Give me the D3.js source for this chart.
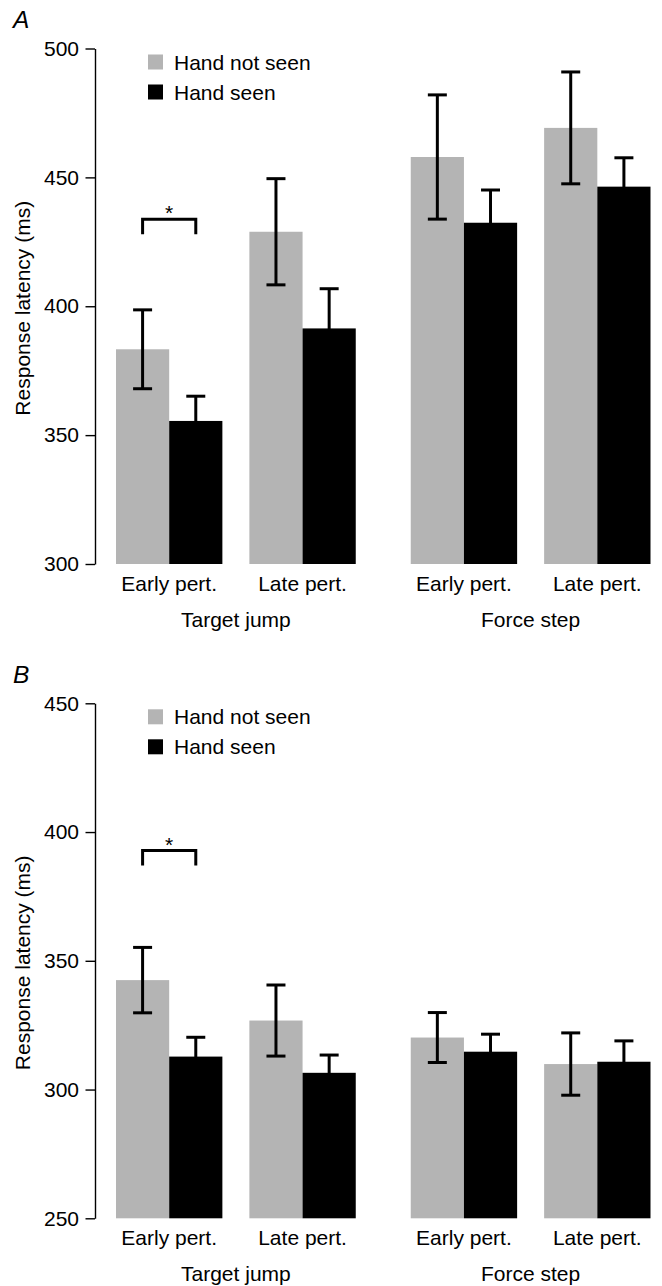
<!DOCTYPE html>
<html>
<head>
<meta charset="utf-8">
<script src="https://cdn.jsdelivr.net/npm/d3@7"></script>
<style>
  html, body { margin: 0; padding: 0; background: #fff; }
  svg { display: block; }
  text { font-family: "Liberation Sans", Arial, Helvetica, sans-serif; fill: #000; }
</style>
</head>
<body>
<svg id="chart" width="662" height="1286"></svg>
<script>
// Conditions: two perturbation types, each with an early and a late perturbation
const groups = ["Target jump", "Force step"];
const perturbations = ["Early pert.", "Late pert."];
const seriesNames = ["Hand not seen", "Hand seen"];
const seriesColors = ["#b4b4b4", "#000000"];

// Bar order: Target jump early, Target jump late, Force step early, Force step late
// Panel A
const meanA_notSeen = [383.3, 428.9, 457.9, 469.2];
const semA_notSeen  = [15.3, 20.6, 24.1, 21.7];
const meanA_seen    = [355.5, 391.4, 432.4, 446.4];
const semA_seen     = [9.6, 15.4, 12.7, 11.2];
const ticksA = [300, 350, 400, 450, 500];
const sigA = [{ group: "Target jump", pert: "Early pert.", level: 433.8, label: "*" }];

// Panel B
const meanB_notSeen = [342.5, 326.8, 320.2, 309.9];
const semB_notSeen  = [12.7, 13.8, 9.7, 12.1];
const meanB_seen    = [312.8, 306.5, 314.7, 310.8];
const semB_seen     = [7.5, 6.9, 6.8, 8.1];
const ticksB = [250, 300, 350, 400, 450];
const sigB = [{ group: "Target jump", pert: "Early pert.", level: 392.8, label: "*" }];

const panels = [
  { letter: "A", top: 48.5, bottom: 564, domain: [300, 500], ticks: ticksA,
    means: [meanA_notSeen, meanA_seen], sems: [semA_notSeen, semA_seen], sig: sigA },
  { letter: "B", top: 703.3, bottom: 1218.3, domain: [250, 450], ticks: ticksB,
    means: [meanB_notSeen, meanB_seen], sems: [semB_notSeen, semB_seen], sig: sigB }
];

const svg = d3.select("#chart");
const axisX = 95;
const fontSize = 21;

// Horizontal layout: groups -> perturbations -> series
const xGroup = d3.scaleBand().domain(groups).range([116, 650.5])
  .paddingInner(55 / ((534.5 + 55) / 2)).paddingOuter(0);
const xPert = d3.scaleBand().domain(perturbations).range([0, xGroup.bandwidth()])
  .paddingInner(27 / ((xGroup.bandwidth() + 27) / 2)).paddingOuter(0);
const xSeries = d3.scaleBand().domain(seriesNames).range([0, xPert.bandwidth()]).padding(0);

const slotX = (g, p) => xGroup(g) + xPert(p);

panels.forEach(panel => {
  const y = d3.scaleLinear().domain(panel.domain).range([panel.bottom, panel.top]);
  const g = svg.append("g");

  // Panel letter
  g.append("text")
    .attr("x", 13).attr("y", panel.top - 20.5)
    .attr("font-size", 24.5).attr("font-style", "italic")
    .text(panel.letter);

  // Records for each bar
  const records = [];
  groups.forEach((grp, gi) => {
    perturbations.forEach((pert, pi) => {
      const idx = gi * 2 + pi;
      seriesNames.forEach((s, si) => {
        records.push({ grp, pert, s, si,
          mean: panel.means[si][idx], sem: panel.sems[si][idx] });
      });
    });
  });

  // Bars
  g.selectAll("rect.bar").data(records).join("rect")
    .attr("class", "bar")
    .attr("x", d => slotX(d.grp, d.pert) + xSeries(d.s))
    .attr("width", xSeries.bandwidth())
    .attr("y", d => y(d.mean))
    .attr("height", d => y(panel.domain[0]) - y(d.mean))
    .attr("fill", d => seriesColors[d.si]);

  // Error bars (mean ± SEM)
  const capHalf = 9.5;
  const eb = g.selectAll("g.err").data(records).join("g")
    .attr("class", "err")
    .attr("stroke", "#000").attr("stroke-width", 3).attr("fill", "none");
  const cx = d => slotX(d.grp, d.pert) + xSeries(d.s) + xSeries.bandwidth() / 2;
  eb.append("line")
    .attr("x1", cx).attr("x2", cx)
    .attr("y1", d => y(d.mean - d.sem)).attr("y2", d => y(d.mean + d.sem));
  eb.append("line")
    .attr("x1", d => cx(d) - capHalf).attr("x2", d => cx(d) + capHalf)
    .attr("y1", d => y(d.mean + d.sem)).attr("y2", d => y(d.mean + d.sem));
  eb.append("line")
    .attr("x1", d => cx(d) - capHalf).attr("x2", d => cx(d) + capHalf)
    .attr("y1", d => y(d.mean - d.sem)).attr("y2", d => y(d.mean - d.sem));

  // Significance brackets
  panel.sig.forEach(s => {
    const x0 = slotX(s.group, s.pert) + xSeries(seriesNames[0]) + xSeries.bandwidth() / 2;
    const x1 = slotX(s.group, s.pert) + xSeries(seriesNames[1]) + xSeries.bandwidth() / 2;
    const yl = y(s.level);
    g.append("path")
      .attr("d", `M${x0},${yl + 15} V${yl} H${x1} V${yl + 15}`)
      .attr("fill", "none").attr("stroke", "#000").attr("stroke-width", 3);
    g.append("text")
      .attr("x", (x0 + x1) / 2).attr("y", yl + 1)
      .attr("text-anchor", "middle").attr("font-size", fontSize)
      .text(s.label);
  });

  // Y axis
  const axis = d3.axisLeft(y).tickValues(panel.ticks).tickSize(9.5)
    .tickSizeOuter(0).tickPadding(6.5).tickFormat(d3.format("d"));
  const ag = g.append("g").attr("transform", `translate(${axisX},0)`).call(axis);
  ag.selectAll("path, line").attr("stroke", "#000").attr("stroke-width", 1.4);
  ag.selectAll("text").attr("font-size", fontSize)
    .attr("font-family", "'Liberation Sans', Arial, sans-serif").attr("fill", "#000");

  // Y axis title
  g.append("text")
    .attr("transform", `translate(29.5, ${(panel.top + panel.bottom) / 2 + 2}) rotate(-90)`)
    .attr("text-anchor", "middle").attr("font-size", fontSize)
    .text("Response latency (ms)");

  // Category labels
  groups.forEach(grp => {
    perturbations.forEach(pert => {
      g.append("text")
        .attr("x", slotX(grp, pert) + xPert.bandwidth() / 2)
        .attr("y", panel.bottom + 27)
        .attr("text-anchor", "middle").attr("font-size", fontSize)
        .text(pert);
    });
    g.append("text")
      .attr("x", xGroup(grp) + xGroup.bandwidth() / 2)
      .attr("y", panel.bottom + 63)
      .attr("text-anchor", "middle").attr("font-size", fontSize)
      .text(grp);
  });

  // Legend
  const legend = g.append("g");
  seriesNames.forEach((name, i) => {
    const top = panel.top + 6 + i * 30;
    legend.append("rect")
      .attr("x", 148).attr("y", top).attr("width", 15).attr("height", 15)
      .attr("fill", seriesColors[i]);
    legend.append("text")
      .attr("x", 174).attr("y", top + 15)
      .attr("font-size", fontSize)
      .text(name);
  });
});
</script>
</body>
</html>
